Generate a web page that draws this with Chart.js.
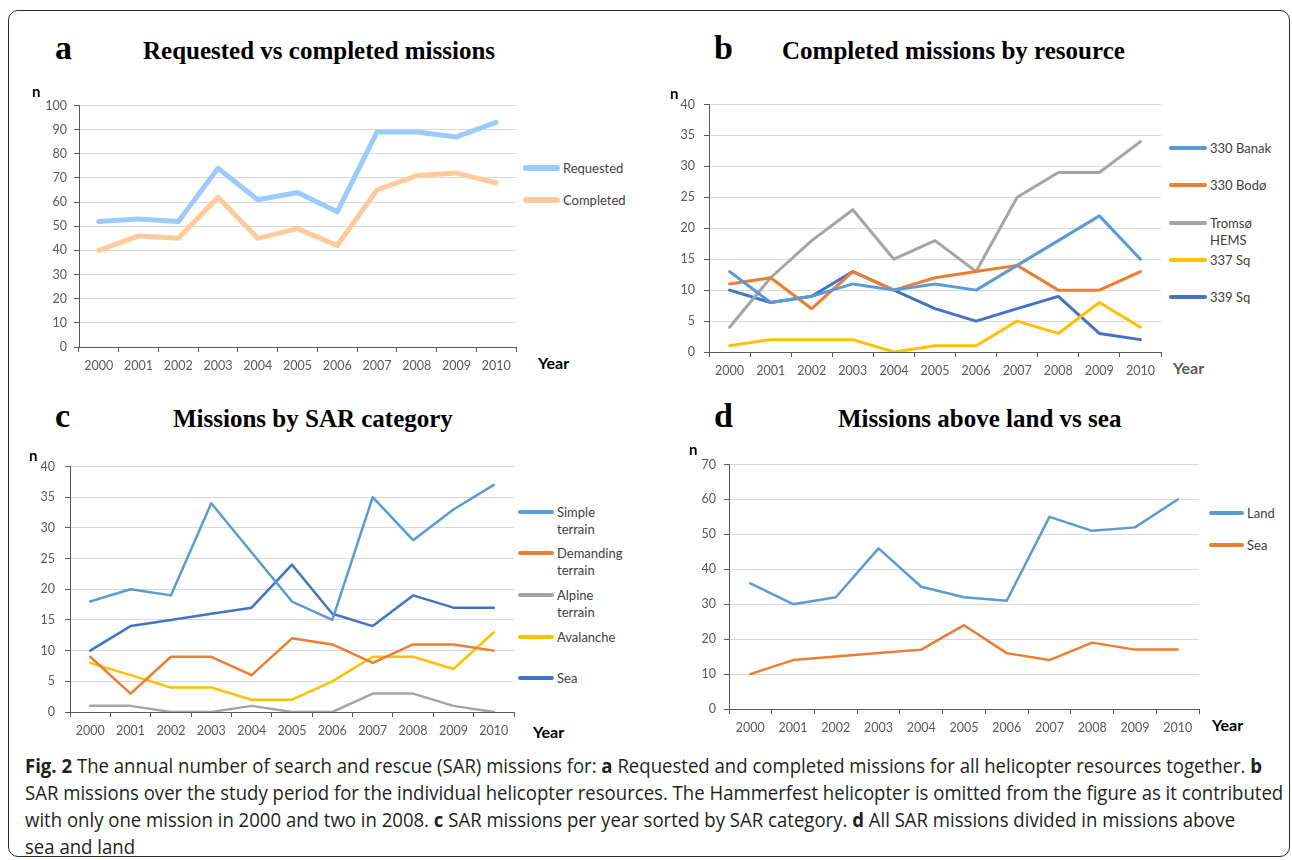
<!DOCTYPE html>
<html>
<head>
<meta charset="utf-8">
<script src="https://cdn.jsdelivr.net/npm/chart.js@4.4.1/dist/chart.umd.min.js"></script>
<style>
    html, body { margin: 0; padding: 0; background: #fff; }
    body { width: 1292px; height: 860px; position: relative; overflow: hidden; font-family: Lato, sans-serif; }
    .frame { position: absolute; left: 8px; top: 10px; width: 1282px; height: 847px; border: 1.5px solid #2b2b2b; border-radius: 10px; box-sizing: border-box; }
    canvas { position: absolute; }
    .lbl { position: absolute; line-height: 1; white-space: nowrap; transform: translateY(-50%); }
    .ttl { font-family: "Liberation Serif", serif; font-weight: bold; color: #000; }
    .n { font-weight: bold; font-size: 15px; color: #000; }
    .year { font-weight: bold; font-size: 16px; color: #000; }
    .leg-row { position: absolute; display: flex; align-items: flex-start; }
    .leg-line { flex: none; border-radius: 3px; }
    .leg-text { font-size: 13px; line-height: 17px; color: #404040; margin-left: 3px; }
    .cap { position: absolute; left: 25px; font-family: "Open Sans", sans-serif; font-size: 20px; line-height: 27px; color: #231f20; white-space: nowrap; transform-origin: 0 0; }
    .cap b { font-weight: bold; }
</style>
</head>
<body>
<div class="frame"></div>
<canvas id="chartA"></canvas>
<canvas id="chartB"></canvas>
<canvas id="chartC"></canvas>
<canvas id="chartD"></canvas>
<div id="overlay"></div>
<div class="cap" style="top:752px"><b>Fig. 2</b> The annual number of search and rescue (SAR) missions for: <b>a</b> Requested and completed missions for all helicopter resources together. <b>b</b></div>
<div class="cap" style="top:779px">SAR missions over the study period for the individual helicopter resources. The Hammerfest helicopter is omitted from the figure as it contributed</div>
<div class="cap" style="top:806px">with only one mission in 2000 and two in 2008. <b>c</b> SAR missions per year sorted by SAR category. <b>d</b> All SAR missions divided in missions above</div>
<div class="cap" style="top:833px">sea and land</div>
<script>
(function() {
    'use strict';

    const years = ['2000', '2001', '2002', '2003', '2004', '2005', '2006', '2007', '2008', '2009', '2010'];

    // a - requested vs completed
    const requested = [52, 53, 52, 74, 61, 64, 56, 89, 89, 87, 93];
    const completed = [40, 46, 45, 62, 45, 49, 42, 65, 71, 72, 68];

    // b - completed missions by resource
    const banak330 = [13, 8, 9, 11, 10, 11, 10, 14, 18, 22, 15];
    const bodo330 = [11, 12, 7, 13, 10, 12, 13, 14, 10, 10, 13];
    const tromsoHems = [4, 12, 18, 23, 15, 18, 13, 25, 29, 29, 34];
    const sq337 = [1, 2, 2, 2, 0, 1, 1, 5, 3, 8, 4];
    const sq339 = [10, 8, 9, 13, 10, 7, 5, 7, 9, 3, 2];

    // c - missions by SAR category
    const simpleTerrain = [18, 20, 19, 34, 26, 18, 15, 35, 28, 33, 37];
    const demandingTerrain = [9, 3, 9, 9, 6, 12, 11, 8, 11, 11, 10];
    const alpineTerrain = [1, 1, 0, 0, 1, 0, 0, 3, 3, 1, 0];
    const avalanche = [8, 6, 4, 4, 2, 2, 5, 9, 9, 7, 13];
    const seaCategory = [10, 14, 15, 16, 17, 24, 16, 14, 19, 17, 17];

    // d - land vs sea
    const land = [36, 30, 32, 46, 35, 32, 31, 55, 51, 52, 60];
    const sea = [10, 14, 15, 16, 17, 24, 16, 14, 19, 17, 17];

    const AXIS = '#595959';
    const GRID = '#d9d9d9';
    const TICK = '#595959';
    const Y_WIDTH = 46;
    const X_HEIGHT = 32;

    const panels = [
        {
            id: 'chartA', area: { left: 79, top: 105, right: 516, bottom: 347 },
            yMax: 100, yStep: 10, yPad: 7, lw: 5, font: 12.5,
            series: [
                { label: 'Requested', data: requested, color: '#9ccbfb' },
                { label: 'Completed', data: completed, color: '#ffca9c' }
            ],
            title: { letter: 'a', lx: 55, text: 'Requested vs completed missions', tx: 143, y: 50 },
            n: { x: 32, y: 91 }, year: { x: 538, y: 363, color: '#000' },
            legend: { x: 523, lineW: 37, textW: 100, rows: [168, 200] }
        },
        {
            id: 'chartB', area: { left: 709, top: 104, right: 1161, bottom: 352 },
            yMax: 40, yStep: 5, yPad: 9, lw: 3, font: 12.5,
            series: [
                { label: '330 Banak', data: banak330, color: '#5b9bd5' },
                { label: '330 Bodø', data: bodo330, color: '#ed7d31' },
                { label: 'Tromsø HEMS', data: tromsoHems, color: '#a5a5a5' },
                { label: '337 Sq', data: sq337, color: '#ffc000' },
                { label: '339 Sq', data: sq339, color: '#4472c4' }
            ],
            title: { letter: 'b', lx: 714, text: 'Completed missions by resource', tx: 782, y: 50 },
            n: { x: 670, y: 93 }, year: { x: 1173, y: 368, color: '#595959' },
            legend: { x: 1169, lineW: 38, textW: 68, rows: [148, 185, 223, 260, 297] }
        },
        {
            id: 'chartC', area: { left: 70, top: 466, right: 514, bottom: 712 },
            yMax: 40, yStep: 5, yPad: 10, lw: 2.5, font: 12.5,
            series: [
                { label: 'Simple terrain', data: simpleTerrain, color: '#5b9bd5' },
                { label: 'Demanding terrain', data: demandingTerrain, color: '#ed7d31' },
                { label: 'Alpine terrain', data: alpineTerrain, color: '#a5a5a5' },
                { label: 'Avalanche', data: avalanche, color: '#ffc000' },
                { label: 'Sea', data: seaCategory, color: '#4472c4' }
            ],
            title: { letter: 'c', lx: 55, text: 'Missions by SAR category', tx: 173, y: 418 },
            n: { x: 29, y: 455 }, year: { x: 533, y: 732, color: '#000' },
            legend: { x: 518, lineW: 36, textW: 72, rows: [512, 553, 595, 637, 678] }
        },
        {
            id: 'chartD', area: { left: 729, top: 464, right: 1199, bottom: 709 },
            yMax: 70, yStep: 10, yPad: 8, lw: 2.5, font: 12.5,
            series: [
                { label: 'Land', data: land, color: '#5b9bd5' },
                { label: 'Sea', data: sea, color: '#ed7d31' }
            ],
            title: { letter: 'd', lx: 714, text: 'Missions above land vs sea', tx: 838, y: 418 },
            n: { x: 689, y: 449 }, year: { x: 1212, y: 725, color: '#000' },
            legend: { x: 1209, lineW: 35, textW: 100, rows: [513, 545] }
        }
    ];

    const overlay = document.getElementById('overlay');

    function place(text, x, y, cls, style) {
        const el = document.createElement('div');
        el.className = 'lbl ' + cls;
        el.textContent = text;
        el.style.left = x + 'px';
        el.style.top = y + 'px';
        Object.assign(el.style, style || {});
        overlay.appendChild(el);
        return el;
    }

    function buildLegend(chart, cfg, lw) {
        chart.data.datasets.forEach((ds, i) => {
            const row = document.createElement('div');
            row.className = 'leg-row';
            row.style.left = cfg.x + 'px';
            row.style.top = (cfg.rows[i] - 8.5) + 'px';

            const line = document.createElement('div');
            line.className = 'leg-line';
            line.style.width = cfg.lineW + 'px';
            line.style.height = lw + 1 + 'px';
            line.style.marginTop = (8.5 - (lw + 1) / 2) + 'px';
            line.style.background = ds.borderColor;

            const txt = document.createElement('div');
            txt.className = 'leg-text';
            txt.style.width = cfg.textW + 'px';
            txt.textContent = ds.label;

            row.appendChild(line);
            row.appendChild(txt);
            overlay.appendChild(row);
        });
    }

    // size the canvas so that the plot area lands where the original had it;
    // chart.js reserves tick padding + half a label line above the top tick
    function fitCanvas(p) {
        const ctx = document.getElementById(p.id);
        const topReserve = p.yPad + p.font * 1.2 / 2;
        const left = p.area.left - Y_WIDTH;
        const top = Math.round(p.area.top - topReserve);
        ctx.width = p.area.right - left + 2;
        ctx.height = p.area.bottom - top + X_HEIGHT;
        ctx.style.left = left + 'px';
        ctx.style.top = top + 'px';
        return ctx;
    }

    function makeChart(p) {
        const ctx = fitCanvas(p);
        return new Chart(ctx, {
            type: 'line',
            data: {
                labels: years,
                datasets: p.series.map(s => ({
                    label: s.label,
                    data: s.data,
                    borderColor: s.color,
                    backgroundColor: s.color,
                    borderWidth: p.lw,
                    pointRadius: 0,
                    tension: 0,
                    borderCapStyle: 'round',
                    borderJoinStyle: 'round',
                    fill: false
                }))
            },
            options: {
                responsive: false,
                animation: false,
                devicePixelRatio: 1,
                layout: { padding: { top: 0, right: 2, left: 0, bottom: 0 } },
                plugins: { legend: { display: false }, tooltip: { enabled: false } },
                scales: {
                    x: {
                        offset: true,
                        grid: { display: true, drawOnChartArea: false, offset: true, tickLength: 5, tickColor: AXIS, color: AXIS },
                        border: { color: AXIS, width: 1 },
                        ticks: { color: TICK, font: { family: 'Lato', size: p.font }, padding: 6, maxRotation: 0, autoSkip: false },
                        afterFit: function(scale) { scale.height = X_HEIGHT; }
                    },
                    y: {
                        min: 0,
                        max: p.yMax,
                        grid: { color: GRID, tickColor: AXIS, tickLength: 5 },
                        border: { color: AXIS, width: 1 },
                        ticks: { stepSize: p.yStep, color: TICK, font: { family: 'Lato', size: p.font }, padding: p.yPad },
                        afterFit: function(scale) { scale.width = Y_WIDTH; }
                    }
                }
            }
        });
    }

    panels.forEach(p => {
        const chart = makeChart(p);
        place(p.title.letter, p.title.lx, p.title.y - 2, 'ttl', { fontSize: '34px' });
        place(p.title.text, p.title.tx, p.title.y, 'ttl', { fontSize: '25px' });
        place('n', p.n.x, p.n.y, 'n');
        place('Year', p.year.x, p.year.y, 'year', { color: p.year.color });
        buildLegend(chart, p.legend, p.lw);
    });

    // squeeze caption lines to the width of the original typesetting
    const caps = document.querySelectorAll('.cap');
    const k = 1237 / caps[0].getBoundingClientRect().width;
    caps.forEach(c => { c.style.transform = 'scaleX(' + k + ')'; });
})();
</script>
</body>
</html>
